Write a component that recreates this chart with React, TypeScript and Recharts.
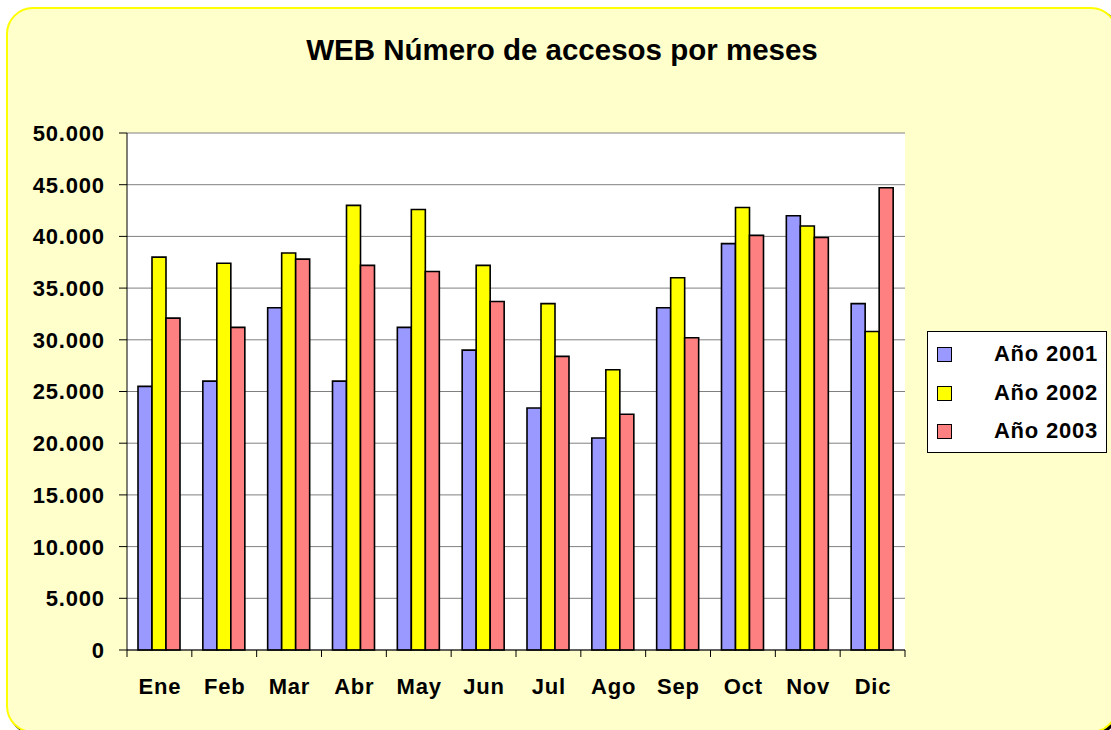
import React from 'react';
import { BarChart, Bar, XAxis, YAxis, CartesianGrid, Legend } from 'recharts';

const months = ['Ene', 'Feb', 'Mar', 'Abr', 'May', 'Jun', 'Jul', 'Ago', 'Sep', 'Oct', 'Nov', 'Dic'];
const y2001 = [25500, 26000, 33100, 26000, 31200, 29000, 23400, 20500, 33100, 39300, 42000, 33500];
const y2002 = [38000, 37400, 38400, 43000, 42600, 37200, 33500, 27100, 36000, 42800, 41000, 30800];
const y2003 = [32100, 31200, 37800, 37200, 36600, 33700, 28400, 22800, 30200, 40100, 39900, 44700];
const yTicks = [0, 5000, 10000, 15000, 20000, 25000, 30000, 35000, 40000, 45000, 50000];
const seriesNames = ['Año 2001', 'Año 2002', 'Año 2003'];
const seriesColors = ['#9999FF', '#FFFF00', '#FF8080'];
const title = 'WEB Número de accesos por meses';

const data = months.map((m, i) => ({ month: m, a: y2001[i], b: y2002[i], c: y2003[i] }));

const FONT = '"Liberation Sans", Arial, sans-serif';
const LS = 0.8;

const fmt = (v: number) => String(v).replace(/\B(?=(\d{3})+(?!\d))/g, '.');

const XTick = (props: any) => {
  const { x, y, payload, width, visibleTicksCount, index } = props;
  const half = payload && typeof payload.offset === 'number' && payload.offset > 0
    ? payload.offset
    : (width || 778) / (visibleTicksCount || 12) / 2;
  const y0 = y - 7;
  return (
    <g>
      <line x1={x - half} x2={x - half} y1={y0} y2={y} stroke="#000" strokeWidth={1} />
      {index === (visibleTicksCount || 12) - 1 && (
        <line x1={x + half} x2={x + half} y1={y0} y2={y} stroke="#000" strokeWidth={1} />
      )}
      <text x={x + LS / 2} y={y + 37} textAnchor="middle" fontFamily={FONT} fontWeight="bold" fontSize={22} letterSpacing={LS} fill="#000">
        {payload.value}
      </text>
    </g>
  );
};

const YTick = (props: any) => {
  const { x, y, payload } = props;
  return (
    <text x={x + LS} y={y} dy="0.36em" textAnchor="end" fontFamily={FONT} fontWeight="bold" fontSize={22} letterSpacing={LS} fill="#000">
      {fmt(payload.value)}
    </text>
  );
};

const LegendBox = () => (
  <div style={{ width: 178, height: 120, border: '1px solid #000', background: '#fff', position: 'relative', fontFamily: FONT }}>
    {seriesNames.map((n, i) => (
      <div key={n} style={{ position: 'absolute', left: 0, top: 14 + i * 38.7, width: 178, height: 18 }}>
        <div style={{ position: 'absolute', left: 9, top: 1, width: 13, height: 13, background: seriesColors[i], border: '1.5px solid #000' }} />
        <div style={{ position: 'absolute', left: 52, width: 132, top: -4, textAlign: 'center', fontWeight: 'bold', fontSize: 22, letterSpacing: LS, lineHeight: '24px', color: '#000', whiteSpace: 'nowrap' }}>{n}</div>
      </div>
    ))}
  </div>
);

export default function App() {
  return (
    <div style={{ position: 'fixed', left: 0, top: 0, width: 1111, height: 730, overflow: 'hidden', background: '#fff', fontFamily: FONT }}>
      <div style={{ position: 'absolute', left: 6, top: 7, width: 1108, height: 722, border: '2px solid #FFFF00', borderRadius: 27, background: '#FFFFCC', boxShadow: '2px 2px 0 #000' }} />
      <div style={{ position: 'absolute', left: 0, top: 0 }}>
        <BarChart width={1111} height={730} data={data} margin={{ top: 133, right: 206, bottom: 0, left: 0 }} barCategoryGap={11} barGap={0}>
          <CartesianGrid vertical={false} stroke="#808080" fill="#fff" />
          <XAxis dataKey="month" height={80} axisLine={{ stroke: '#000' }} tickLine={false} tickSize={7} tickMargin={0} tick={<XTick />} interval={0} />
          <YAxis width={127} domain={[0, 50000]} ticks={yTicks} axisLine={{ stroke: '#000' }} tickLine={{ stroke: '#000' }} tickSize={8} tickMargin={15} tick={<YTick />} interval={0} />
          <YAxis yAxisId="r" orientation="right" width={0} domain={[0, 50000]} tick={false} tickLine={false} axisLine={{ stroke: '#808080' }} />
          <Legend layout="vertical" align="center" verticalAlign="middle" content={<LegendBox />} wrapperStyle={{ left: 927, top: 331, width: 180, height: 122 }} />
          <Bar dataKey="a" name={seriesNames[0]} fill={seriesColors[0]} stroke="#000" strokeWidth={1.6} isAnimationActive={false} />
          <Bar dataKey="b" name={seriesNames[1]} fill={seriesColors[1]} stroke="#000" strokeWidth={1.6} isAnimationActive={false} />
          <Bar dataKey="c" name={seriesNames[2]} fill={seriesColors[2]} stroke="#000" strokeWidth={1.6} isAnimationActive={false} />
        </BarChart>
      </div>
      <svg width={1111} height={730} style={{ position: 'absolute', left: 0, top: 0, pointerEvents: 'none' }}>
        <text x={562} y={60} textAnchor="middle" fontFamily={FONT} fontWeight="bold" fontSize={29.5} fill="#000">{title}</text>
      </svg>
    </div>
  );
}
